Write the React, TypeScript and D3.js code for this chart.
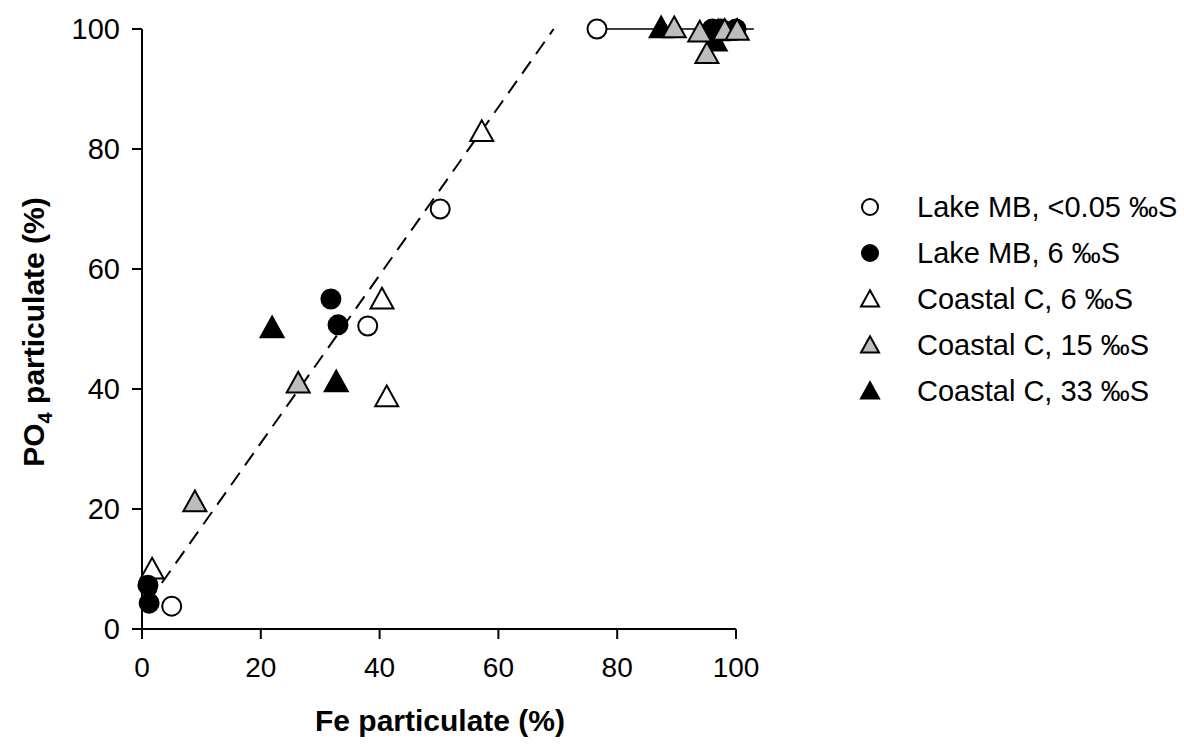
import React from 'react';
import * as d3 from 'd3';

// series: [Fe particulate %, PO4 particulate %]
const lakeLow: [number, number][] = [[76.6, 100], [50.2, 70], [38.0, 50.5], [5.0, 3.8]];
const lakeMid: [number, number][] = [[31.8, 55], [33.0, 50.7], [1.0, 7.3], [1.2, 4.3], [96.0, 100], [100, 100], [97.5, 100]];
const coastal6: [number, number][] = [[1.7, 9.8], [40.4, 54.8], [41.2, 38.5], [57.2, 82.7]];
const coastal15: [number, number][] = [[8.9, 21], [26.3, 40.8], [89.6, 100], [93.9, 99.3], [95.1, 95.7], [98.1, 99.6], [100.2, 99.6]];
const coastal33: [number, number][] = [[21.9, 50], [32.7, 41], [87.4, 100], [96.5, 97.8], [97.0, 99.5]];

const ticks = [0, 20, 40, 60, 80, 100];
const legendLabels = ['Lake MB, <0.05 ‰S', 'Lake MB, 6 ‰S', 'Coastal C, 6 ‰S', 'Coastal C, 15 ‰S', 'Coastal C, 33 ‰S'];

// regression (dashed) and plateau (solid)
const fitLine: [number, number][] = [[1.0, 4.4], [69.3, 100]];
const plateau: [number, number][] = [[76.6, 100], [103, 100]];

const GRAY = '#bdbdbd';

export default function App() {
  const width = 1184;
  const height = 744;
  const x = d3.scaleLinear().domain([0, 100]).range([142, 736]);
  const y = d3.scaleLinear().domain([0, 100]).range([629, 29]);
  const line = d3.line<[number, number]>().x(d => x(d[0])).y(d => y(d[1]));

  const tri = (cx: number, cy: number, s: number) => {
    const h = s * 0.9;
    return `M${cx},${cy - h * 0.6}L${cx + s / 2},${cy + h * 0.4}L${cx - s / 2},${cy + h * 0.4}Z`;
  };

  const circles = (data: [number, number][], fill: string, key: string) =>
    data.map((d, i) => (
      <circle key={key + i} cx={x(d[0])} cy={y(d[1])} r={9.5} fill={fill} stroke="#000" strokeWidth={2} />
    ));
  const triangles = (data: [number, number][], fill: string, key: string) =>
    data.map((d, i) => (
      <path key={key + i} d={tri(x(d[0]), y(d[1]), 23)} fill={fill} stroke="#000" strokeWidth={2} />
    ));

  const font = 'Liberation Sans, Arial, sans-serif';

  return (
    <svg width={width} height={height} style={{ position: 'absolute', left: 0, top: 0, background: '#fff' }}>
      <path d={line(fitLine) || ''} fill="none" stroke="#000" strokeWidth={2} strokeDasharray="15,9" />
      <path d={line(plateau) || ''} fill="none" stroke="#000" strokeWidth={1.5} />

      {circles(lakeLow, '#fff', 'll')}
      {triangles(coastal6, '#fff', 'c6')}
      {circles(lakeMid, '#000', 'lm')}
      {triangles(coastal33, '#000', 'c33')}
      {triangles(coastal15, GRAY, 'c15')}

      {/* axes */}
      <line x1={x(0)} x2={x(100)} y1={y(0)} y2={y(0)} stroke="#000" strokeWidth={2} />
      <line x1={x(0)} x2={x(0)} y1={y(0)} y2={y(100)} stroke="#000" strokeWidth={2} />
      {ticks.map(t => (
        <g key={'xt' + t}>
          <line x1={x(t)} x2={x(t)} y1={y(0)} y2={y(0) + 10} stroke="#000" strokeWidth={2} />
          <text x={x(t)} y={y(0) + 48} textAnchor="middle" fontFamily={font} fontSize={28}>{t}</text>
        </g>
      ))}
      {ticks.map(t => (
        <g key={'yt' + t}>
          <line x1={x(0) - 10} x2={x(0)} y1={y(t)} y2={y(t)} stroke="#000" strokeWidth={2} />
          <text x={x(0) - 22} y={y(t)} dy="0.36em" textAnchor="end" fontFamily={font} fontSize={29}>{t}</text>
        </g>
      ))}
      <text x={440} y={731} textAnchor="middle" fontFamily={font} fontWeight="bold" fontSize={30}>Fe particulate (%)</text>
      <text transform={`translate(44,${332}) rotate(-90)`} textAnchor="middle" fontFamily={font} fontWeight="bold" fontSize={30}>
        PO<tspan fontSize={20} dy={8}>4</tspan><tspan dy={-8}> particulate (%)</tspan>
      </text>

      {/* legend */}
      {legendLabels.map((lab, i) => {
        const ly = 207 + i * 46;
        let sym;
        if (i === 0) sym = <circle cx={870} cy={ly} r={8} fill="#fff" stroke="#000" strokeWidth={2} />;
        else if (i === 1) sym = <circle cx={870} cy={ly} r={9} fill="#000" />;
        else sym = <path d={tri(870, ly + 1, 18)} fill={i === 2 ? '#fff' : i === 3 ? GRAY : '#000'} stroke="#000" strokeWidth={2} />;
        return (
          <g key={'lg' + i}>
            {sym}
            <text x={917} y={ly} dy="0.36em" fontFamily={font} fontSize={29}>{lab}</text>
          </g>
        );
      })}
    </svg>
  );
}
